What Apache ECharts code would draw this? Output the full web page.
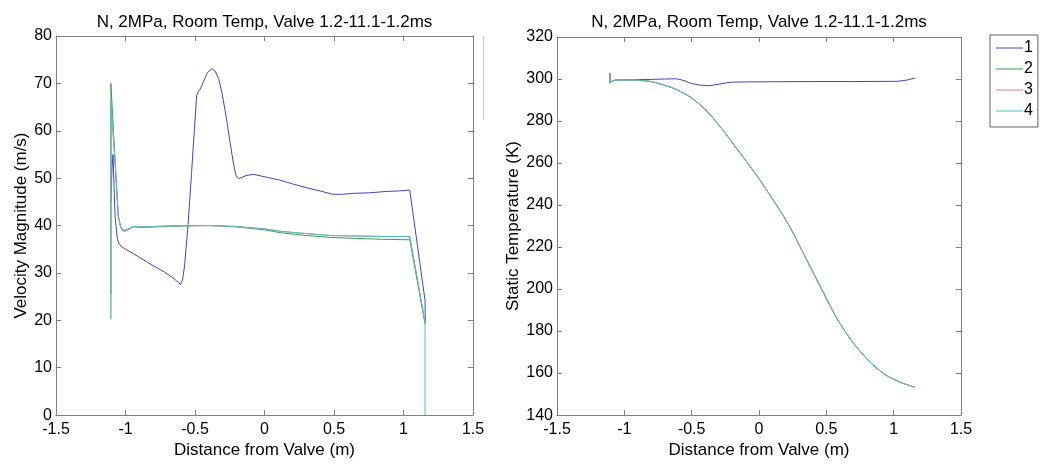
<!DOCTYPE html>
<html>
<head>
<meta charset="utf-8">
<script src="https://cdn.jsdelivr.net/npm/echarts@6/dist/echarts.min.js"></script>
<style>html,body{margin:0;padding:0;background:#fff;overflow:hidden}#c{width:1044px;height:464px}</style>
</head>
<body>
<div id="c"></div>
<script>
const titleText = 'N, 2MPa, Room Temp, Valve 1.2-11.1-1.2ms';
const seriesNames = ['1', '2', '3', '4'];
const seriesColors = ['#4444c4', '#36a056', '#f07080', '#48c4c4'];

// Left panel: velocity magnitude (m/s)
const vel1X = [-1.105, -1.097, -1.09, -1.075, -1.06, -1.05, -1.03, -1.0, -0.95, -0.9, -0.84, -0.78, -0.72, -0.66, -0.62, -0.605, -0.59, -0.575, -0.55, -0.525, -0.505, -0.488, -0.475, -0.462, -0.44, -0.41, -0.378, -0.355, -0.33, -0.306, -0.285, -0.27, -0.25, -0.233, -0.215, -0.202, -0.186, -0.16, -0.126, -0.08, -0.03, 0.03, 0.11, 0.2, 0.3, 0.4, 0.49, 0.56, 0.64, 0.75, 0.88, 0.97, 1.045, 1.155, 1.157];
const vel1Y = [45, 52, 55, 42, 37.5, 36.3, 35.6, 35.0, 34.2, 33.3, 32.2, 31.2, 30.2, 29.0, 28.0, 27.6, 28.5, 31.5, 40.2, 51.0, 60.0, 67.5, 68.3, 68.8, 70.3, 72.3, 73.1, 72.6, 71.0, 68.0, 64.5, 61.8, 58.0, 54.8, 51.8, 50.3, 49.9, 50.2, 50.6, 50.8, 50.5, 50.1, 49.6, 48.8, 48.0, 47.3, 46.6, 46.6, 46.8, 46.9, 47.2, 47.3, 47.5, 24.2, 19.4];
const vel2X = [-1.105, -1.105, -1.076, -1.052, -1.035, -1.02, -1.0, -0.97, -0.945, -0.9, -0.8, -0.6, -0.4, -0.3, -0.2, -0.13, 0.0, 0.11, 0.3, 0.475, 0.65, 0.84, 1.045, 1.155];
const vel2Y = [20.2, 70, 54, 42, 39.6, 38.9, 38.8, 39.3, 39.8, 39.6, 39.7, 39.9, 40.0, 39.9, 39.7, 39.5, 39.1, 38.5, 37.9, 37.5, 37.3, 37.1, 37.0, 19.3];
const vel3X = [-1.105, -1.105, -1.076, -1.052, -1.035, -1.02, -1.0, -0.97, -0.945, -0.9, -0.8, -0.6, -0.4, -0.3, -0.2, -0.13, 0.0, 0.11, 0.3, 0.475, 0.65, 0.84, 1.045, 1.155];
const vel3Y = [25.5, 66, 54, 42, 39.8, 39.1, 39.0, 39.4, 39.8, 39.7, 39.8, 40.0, 40.0, 39.9, 39.8, 39.6, 39.3, 38.8, 38.3, 37.9, 37.8, 37.7, 37.7, 19.5];
const vel4X = [-1.105, -1.105, -1.076, -1.052, -1.035, -1.02, -1.0, -0.97, -0.945, -0.9, -0.8, -0.6, -0.4, -0.3, -0.2, -0.13, 0.0, 0.11, 0.3, 0.475, 0.65, 0.84, 1.045, 1.155, 1.155];
const vel4Y = [25.5, 66, 54, 42, 39.8, 39.1, 39.0, 39.4, 39.8, 39.7, 39.8, 40.0, 40.0, 39.9, 39.8, 39.6, 39.3, 38.8, 38.3, 37.9, 37.8, 37.7, 37.7, 19.5, 0];

// Right panel: static temperature (K)
const tmp1X = [-1.107, -1.107, -1.1, -1.085, -1.07, -1.0, -0.9, -0.8, -0.7, -0.62, -0.595, -0.55, -0.51, -0.44, -0.37, -0.3, -0.25, -0.2, -0.1, 0.1, 0.4, 0.7, 1.03, 1.1, 1.16];
const tmp1Y = [302.8, 298.1, 298.6, 299.2, 299.4, 299.6, 299.7, 299.8, 300.0, 300.1, 299.9, 299.1, 298.0, 297.1, 296.8, 297.5, 298.1, 298.5, 298.6, 298.7, 298.8, 298.8, 298.9, 299.5, 300.5];
const tmp2X = [-1.107, -1.107, -1.09, -1.07, -1.0, -0.907, -0.811, -0.74, -0.62, -0.501, -0.382, -0.263, -0.143, -0.024, 0.095, 0.215, 0.334, 0.453, 0.573, 0.692, 0.811, 0.931, 1.05, 1.158];
const tmp2Y = [302.8, 298.1, 299.0, 299.4, 299.6, 299.4, 298.9, 297.8, 295.2, 291.0, 284.4, 275.2, 265.0, 254.7, 243.4, 231.2, 216.5, 201.5, 186.6, 175.0, 166.1, 159.5, 155.6, 153.3];
const tmp3X = [-1.107, -1.107, -1.09, -1.07, -1.0, -0.907, -0.811, -0.74, -0.62, -0.501, -0.382, -0.263, -0.143, -0.024, 0.095, 0.215, 0.334, 0.453, 0.573, 0.692, 0.811, 0.931, 1.05, 1.158];
const tmp3Y = [302.8, 298.1, 299.0, 299.4, 299.6, 299.4, 298.9, 297.8, 295.2, 291.0, 284.4, 275.2, 265.0, 254.7, 243.4, 231.2, 216.5, 201.5, 186.6, 175.0, 166.1, 159.5, 155.6, 153.3];
const tmp4X = [-1.107, -1.107, -1.09, -1.07, -1.0, -0.907, -0.811, -0.74, -0.62, -0.501, -0.382, -0.263, -0.143, -0.024, 0.095, 0.215, 0.334, 0.453, 0.573, 0.692, 0.811, 0.931, 1.05, 1.158];
const tmp4Y = [302.8, 298.1, 299.0, 299.4, 299.6, 299.4, 298.9, 297.8, 295.2, 291.0, 284.4, 275.2, 265.0, 254.7, 243.4, 231.2, 216.5, 201.5, 186.6, 175.0, 166.1, 159.5, 155.6, 153.3];

const xMin = -1.5, xMax = 1.5, xStep = 0.5;
const velMin = 0, velMax = 80, velStep = 10;
const tmpMin = 140, tmpMax = 320, tmpStep = 20;

const zip = (xs, ys) => xs.map((x, i) => [x, ys[i]]);
const FONT = 'Liberation Sans, Arial, sans-serif';
const AX = '#808080';
const TICK_FS = 16, NAME_FS = 17, TITLE_FS = 17;

function baseAxis(extra) {
  return Object.assign({
    type: 'value',
    axisLine: { show: true, onZero: false, lineStyle: { color: AX, width: 1 } },
    axisTick: { show: true, inside: true, length: 5, lineStyle: { color: AX } },
    splitLine: { show: false },
    axisLabel: { show: false }
  }, extra);
}
const tickLabel = (m) => ({ color: '#000', fontSize: TICK_FS, fontFamily: FONT, margin: m });
const nameStyle = { fontSize: NAME_FS, color: '#000', fontFamily: FONT };

const velData = [zip(vel1X, vel1Y), zip(vel2X, vel2Y), zip(vel3X, vel3Y), zip(vel4X, vel4Y)];
const tmpData = [zip(tmp1X, tmp1Y), zip(tmp2X, tmp2Y), zip(tmp3X, tmp3Y), zip(tmp4X, tmp4Y)];

const series = [];
[velData, tmpData].forEach((set, g) => {
  set.forEach((d, i) => {
    series.push({
      type: 'line', name: seriesNames[i], data: d,
      xAxisIndex: g * 2, yAxisIndex: g * 2,
      showSymbol: false, symbol: 'none', animation: false,
      smooth: (g === 1 && i > 0) ? 0.25 : false,
      lineStyle: { color: seriesColors[i], width: 1 },
      itemStyle: { color: seriesColors[i] }
    });
  });
});

const chart = echarts.init(document.getElementById('c'), null, { renderer: 'canvas' });
chart.setOption({
  backgroundColor: '#fff',
  animation: false,
  title: [
    { text: titleText, left: 259.5, top: 9, textAlign: 'center', textStyle: { fontSize: TITLE_FS, fontWeight: 'normal', color: '#000', fontFamily: FONT } },
    { text: titleText, left: 754, top: 9, textAlign: 'center', textStyle: { fontSize: TITLE_FS, fontWeight: 'normal', color: '#000', fontFamily: FONT } }
  ],
  grid: [
    { left: 56, top: 36, width: 417, height: 383, containLabel: false },
    { left: 557, top: 37, width: 404, height: 384, containLabel: false }
  ],
  legend: {
    data: seriesNames, orient: 'vertical', left: 990, top: 35,
    icon: 'rect', padding: [5, 5, 8, 6], itemGap: 5, itemWidth: 27, itemHeight: 1,
    borderColor: '#606060', borderWidth: 1, backgroundColor: '#fff',
    textStyle: { fontSize: TICK_FS, lineHeight: 14, color: '#000', fontFamily: FONT, padding: [0, 0, 0, -4] },
    selectedMode: false
  },
  xAxis: [
    baseAxis({ gridIndex: 0, min: xMin, max: xMax, interval: xStep, position: 'bottom', axisLabel: tickLabel(6), name: 'Distance from Valve (m)', nameLocation: 'middle', nameGap: 23, nameTextStyle: nameStyle }),
    baseAxis({ gridIndex: 0, min: xMin, max: xMax, interval: xStep, position: 'top' }),
    baseAxis({ gridIndex: 1, min: xMin, max: xMax, interval: xStep, position: 'bottom', axisLabel: tickLabel(6), name: 'Distance from Valve (m)', nameLocation: 'middle', nameGap: 23, nameTextStyle: nameStyle }),
    baseAxis({ gridIndex: 1, min: xMin, max: xMax, interval: xStep, position: 'top' })
  ],
  yAxis: [
    baseAxis({ gridIndex: 0, min: velMin, max: velMax, interval: velStep, position: 'left', axisLabel: tickLabel(4), name: 'Velocity Magnitude (m/s)', nameLocation: 'middle', nameGap: 25, nameTextStyle: nameStyle }),
    baseAxis({ gridIndex: 0, min: velMin, max: velMax, interval: velStep, position: 'right' }),
    baseAxis({ gridIndex: 1, min: tmpMin, max: tmpMax, interval: tmpStep, position: 'left', axisLabel: tickLabel(4), name: 'Static Temperature (K)', nameLocation: 'middle', nameGap: 35, nameTextStyle: nameStyle }),
    baseAxis({ gridIndex: 1, min: tmpMin, max: tmpMax, interval: tmpStep, position: 'right' })
  ],
  graphic: [
    { type: 'line', shape: { x1: 483.5, y1: 36, x2: 483.5, y2: 120 }, style: { stroke: '#c8c8c8', lineWidth: 1 }, silent: true }
  ],
  series: series
});
</script>
</body>
</html>
